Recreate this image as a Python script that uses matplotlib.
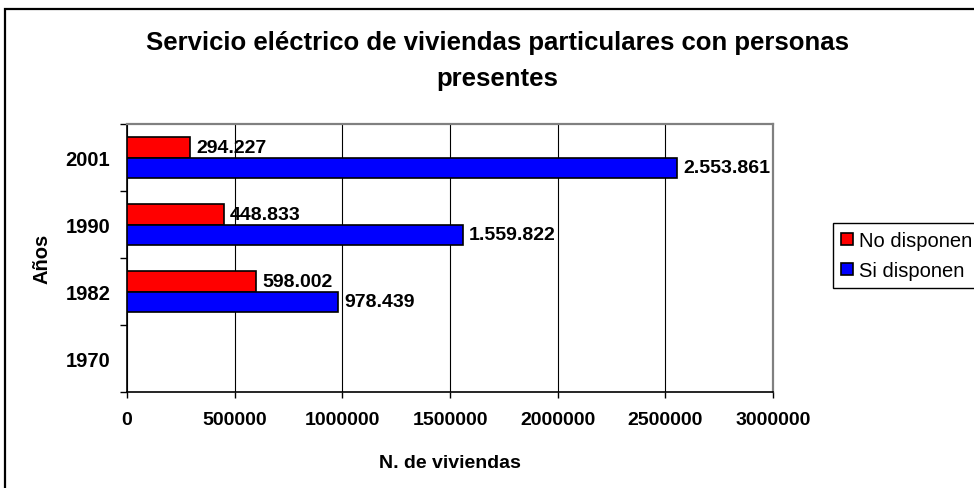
import numpy as np
import matplotlib
matplotlib.use('Agg')
import matplotlib.pyplot as plt
from matplotlib.patches import Rectangle

plt.rcParams['font.family'] = ['Liberation Sans', 'DejaVu Sans']

# datos (viviendas particulares con personas presentes)
years = ['1970', '1982', '1990', '2001']
no_disponen = [np.nan, 598002, 448833, 294227]
si_disponen = [np.nan, 978439, 1559822, 2553861]
xticks = [0, 500000, 1000000, 1500000, 2000000, 2500000, 3000000]


def fmt(v):
    # separador de miles con punto
    if np.isnan(v):
        return ''
    return '{:,}'.format(int(v)).replace(',', '.')


W, H = 974, 489
fig = plt.figure(figsize=(W / 100, H / 100), dpi=100)
ax = fig.add_axes([127 / W, 1 - 393 / H, (773 - 127) / W, (393 - 125) / H])

y = np.arange(len(years))
h = 0.3
b_no = ax.barh(y + h / 2, no_disponen, height=h, color='#FF0000',
               edgecolor='black', linewidth=1.2, label='No disponen', zorder=3)
b_si = ax.barh(y - h / 2, si_disponen, height=h, color='#0000FF',
               edgecolor='black', linewidth=1.2, label='Si disponen', zorder=3)

ax.bar_label(b_no, labels=[fmt(v) for v in no_disponen], padding=4.5,
             fontsize=14, fontweight='bold')
ax.bar_label(b_si, labels=[fmt(v) for v in si_disponen], padding=4.5,
             fontsize=14, fontweight='bold')

ax.set_xlim(0, 3000000)
ax.set_ylim(-0.5, len(years) - 0.5)

ax.set_xticks(xticks)
ax.set_xticklabels([str(t) for t in xticks], fontsize=14, fontweight='bold')
ax.tick_params(axis='x', direction='out', length=4.5, width=1, pad=9.5)

ax.set_yticks(y)
ax.set_yticklabels(years, fontsize=14.5, fontweight='bold')
ax.set_yticks(np.arange(-0.5, len(years)), minor=True)
ax.tick_params(axis='y', which='major', length=0, pad=12)
ax.tick_params(axis='y', which='minor', direction='out', length=5, width=1)

ax.grid(axis='x', color='black', linewidth=0.8, zorder=0)
ax.set_axisbelow(True)

for s in ['left', 'bottom']:
    ax.spines[s].set_color('black')
    ax.spines[s].set_linewidth(1.2)
for s in ['top', 'right']:
    ax.spines[s].set_color('#808080')
    ax.spines[s].set_linewidth(1.6)

ax.set_xlabel('N. de viviendas', fontsize=14, fontweight='bold', va='center')
ax.xaxis.set_label_coords(0.5, (393 - 463) / 268)
ax.set_ylabel('Años', fontsize=14.5, fontweight='bold', va='center')
ax.yaxis.set_label_coords((42 - 127) / 646, 0.5)

fig.text(497 / W, 1 - 61 / H,
         'Servicio eléctrico de viviendas particulares con personas\npresentes',
         ha='center', va='center', fontsize=18.5, fontweight='bold',
         linespacing=1.6)

leg = fig.legend(handles=[b_no, b_si], loc='upper left',
                 bbox_to_anchor=(833 / W, 1 - 224 / H), fontsize=14.5,
                 frameon=True, fancybox=False, shadow=False, framealpha=1,
                 edgecolor='black', handlelength=0.6, handleheight=0.6,
                 handletextpad=0.3, borderpad=0.4, labelspacing=0.55,
                 borderaxespad=0)
leg.get_frame().set_linewidth(1)

# marco exterior del grafico
fig.patches.append(Rectangle((5 / W, -0.05), 1.2, 1 - 10 / H + 0.05,
                             transform=fig.transFigure, fill=False,
                             edgecolor='black', linewidth=1.6))

fig.savefig('out.png', dpi=100)
